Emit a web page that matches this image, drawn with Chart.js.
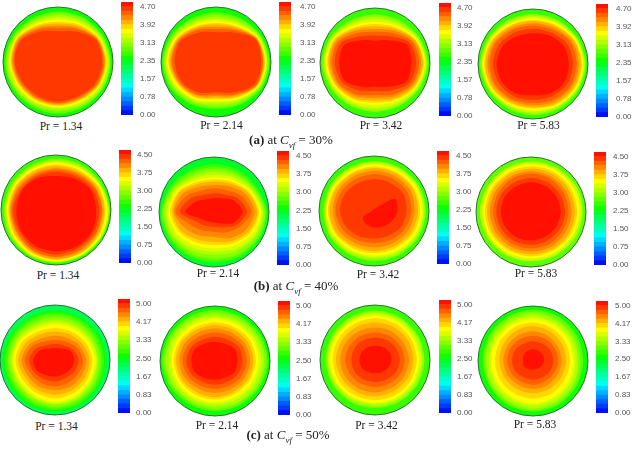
<!DOCTYPE html>
<html>
<head>
<meta charset="utf-8">
<title>Contours</title>
<script src="https://cdn.jsdelivr.net/npm/chart.js@4"></script>
<style>
  body { margin: 0; background: #fff; width: 640px; height: 449px; overflow: hidden; position: relative; }
  canvas { position: absolute; filter: blur(0.6px); }
  .txt { position: absolute; font-family: "Liberation Serif", serif; color: #222; white-space: nowrap; transform: translate(-50%, -50%); }
  .pr { font-size: 11.5px; }
  .cap { font-size: 13px; }
  .cap sub { font-size: 9px; font-style: italic; line-height: 0; }
</style>
</head>
<body>
<script>
// clockwise from the top of the disc, one radius every 30 degrees
const angles = ["0", "30", "60", "90", "120", "150", "180", "210", "240", "270", "300", "330"];

const bandColors = [
  "#0010f0", "#0038ff", "#0060ff", "#0088ff", "#00b0ff", "#00d8ff", "#00fff0", "#00ffc8", "#00ffa0",
  "#00ff78", "#00ff50", "#00ff28", "#10ff00", "#38ff00", "#60ff00", "#88ff00", "#b0ff00", "#d8ff00",
  "#ffff00", "#ffd800", "#ffb000", "#ff8800", "#ff6000", "#ff3800", "#ff1000",
];

const ticksA = [0.0, 0.78, 1.57, 2.35, 3.13, 3.92, 4.7];
const ticksB = [0.0, 0.75, 1.5, 2.25, 3.0, 3.75, 4.5];
const ticksC = [0.0, 0.83, 1.67, 2.5, 3.33, 4.17, 5.0];

const edgesA = [0, 0.2, 0.39, 0.59, 0.78, 0.98, 1.18, 1.37, 1.57, 1.76, 1.96, 2.15, 2.35, 2.55, 2.74, 2.94, 3.13, 3.33, 3.53, 3.72, 3.92, 4.11, 4.31, 4.5, 4.7, 4.9];
const edgesB = [0, 0.19, 0.38, 0.56, 0.75, 0.94, 1.13, 1.31, 1.5, 1.69, 1.88, 2.06, 2.25, 2.44, 2.63, 2.81, 3.0, 3.19, 3.38, 3.56, 3.75, 3.94, 4.13, 4.31, 4.5, 4.69];
const edgesC = [0, 0.21, 0.42, 0.63, 0.83, 1.04, 1.25, 1.46, 1.67, 1.88, 2.08, 2.29, 2.5, 2.71, 2.92, 3.13, 3.33, 3.54, 3.75, 3.96, 4.17, 4.38, 4.58, 4.79, 5.0, 5.21];

// contour radii, % of the disc radius, outermost first
const a1Bands = [14, 15, 16, 17, 18, 19, 20, 21, 22, 23];
const a1Radii = [
  [92, 93, 95, 96, 95, 94, 94, 94, 95, 96, 95, 92],
  [88, 90, 93, 95, 94, 91, 90, 91, 93, 95, 93, 89],
  [85, 87, 91, 93, 92, 89, 87, 88, 91, 93, 91, 86],
  [81, 84, 89, 91, 89, 86, 84, 85, 88, 90, 89, 83],
  [77, 81, 87, 89, 87, 83, 82, 83, 85, 88, 87, 80],
  [73, 78, 86, 88, 86, 81, 80, 81, 83, 86, 86, 77],
  [70, 75, 84, 86, 84, 79, 78, 79, 81, 85, 85, 75],
  [66, 72, 83, 85, 83, 77, 76, 77, 79, 83, 83, 72],
  [62, 69, 82, 83, 81, 75, 75, 75, 77, 81, 81, 69],
  [56, 64, 80, 80, 78, 72, 72, 72, 74, 79, 78, 64],
];
const a2Bands = [14, 15, 16, 17, 18, 19, 20, 21, 22, 23];
const a2Radii = [
  [90, 91, 95, 97, 95, 89, 85, 89, 95, 97, 95, 91],
  [86, 88, 93, 95, 93, 86, 82, 86, 92, 95, 93, 88],
  [82, 84, 92, 94, 92, 83, 78, 83, 90, 94, 91, 84],
  [78, 81, 90, 92, 90, 80, 74, 80, 87, 91, 88, 81],
  [75, 78, 88, 91, 88, 78, 71, 78, 84, 89, 86, 78],
  [71, 75, 87, 89, 87, 75, 68, 75, 81, 87, 84, 75],
  [68, 73, 86, 88, 86, 73, 65, 73, 79, 85, 82, 73],
  [64, 70, 85, 86, 85, 70, 62, 70, 77, 82, 80, 70],
  [60, 67, 84, 85, 84, 68, 59, 68, 75, 80, 78, 67],
  [54, 62, 83, 82, 81, 64, 55, 64, 72, 75, 75, 62],
];
const a3Bands = [15, 16, 17, 18, 19, 20, 21, 22, 23, 24];
const a3Radii = [
  [88, 89, 93, 96, 93, 90, 89, 90, 93, 96, 94, 89],
  [84, 85, 91, 94, 91, 87, 85, 87, 90, 94, 92, 85],
  [80, 82, 89, 92, 89, 84, 81, 84, 88, 92, 90, 82],
  [75, 78, 87, 91, 86, 80, 76, 80, 85, 90, 88, 78],
  [71, 75, 85, 89, 85, 77, 72, 77, 83, 87, 86, 75],
  [67, 72, 84, 87, 83, 74, 68, 74, 81, 85, 84, 72],
  [62, 68, 81, 84, 80, 70, 63, 70, 78, 82, 81, 68],
  [57, 63, 78, 80, 77, 66, 58, 66, 75, 78, 77, 63],
  [50, 56, 73, 75, 72, 58, 51, 58, 69, 73, 72, 56],
  [41, 48, 67, 66, 66, 50, 43, 50, 64, 65, 65, 48],
];
const a4Bands = [15, 16, 17, 18, 19, 20, 21, 22, 23, 24];
const a4Radii = [
  [91, 92, 94, 96, 95, 94, 93, 93, 94, 96, 94, 92],
  [88, 89, 92, 94, 93, 91, 90, 90, 92, 94, 92, 89],
  [86, 87, 91, 93, 92, 89, 87, 88, 91, 93, 91, 87],
  [83, 85, 89, 91, 90, 87, 84, 85, 89, 91, 89, 84],
  [80, 82, 87, 89, 88, 85, 81, 83, 87, 89, 87, 82],
  [78, 80, 86, 87, 86, 83, 79, 81, 85, 87, 85, 80],
  [74, 76, 82, 83, 82, 79, 75, 77, 81, 83, 81, 76],
  [70, 72, 79, 79, 79, 75, 71, 74, 78, 79, 78, 72],
  [64, 66, 72, 73, 72, 68, 65, 68, 71, 73, 71, 66],
  [56, 60, 65, 65, 66, 62, 57, 62, 65, 66, 64, 58],
];
const b1Bands = [15, 16, 17, 18, 19, 20, 21, 22, 23, 24];
const b1Radii = [
  [93, 94, 95, 97, 97, 96, 96, 96, 96, 95, 94, 93],
  [90, 91, 93, 96, 96, 95, 95, 95, 94, 93, 92, 90],
  [88, 89, 92, 95, 95, 94, 94, 94, 93, 91, 90, 88],
  [86, 87, 90, 93, 93, 93, 93, 92, 91, 89, 88, 86],
  [83, 84, 88, 90, 91, 91, 91, 90, 88, 87, 86, 83],
  [80, 81, 86, 88, 89, 90, 90, 88, 86, 85, 84, 81],
  [76, 78, 83, 85, 86, 87, 87, 86, 83, 83, 81, 77],
  [73, 75, 81, 83, 84, 84, 85, 84, 81, 81, 78, 74],
  [69, 71, 77, 79, 80, 80, 81, 80, 77, 78, 74, 71],
  [62, 66, 73, 73, 76, 76, 75, 75, 74, 72, 71, 67],
];
const b2Bands = [13, 14, 15, 16, 17, 18, 19, 20, 21, 22, 23, 24];
const b2Radii = [
  [87, 88, 90, 96, 96, 94, 92, 93, 96, 96, 92, 88],
  [82, 84, 87, 95, 94, 91, 88, 90, 93, 95, 90, 84],
  [78, 80, 85, 93, 92, 88, 84, 86, 90, 93, 87, 80],
  [73, 76, 82, 90, 88, 82, 78, 81, 87, 90, 84, 75],
  [68, 72, 79, 88, 85, 77, 72, 76, 84, 87, 81, 71],
  [63, 67, 76, 85, 80, 71, 66, 70, 78, 83, 78, 66],
  [59, 64, 74, 82, 76, 66, 60, 64, 73, 80, 75, 63],
  [55, 60, 71, 79, 72, 62, 54, 58, 69, 76, 72, 59],
  [49, 54, 66, 74, 66, 55, 45, 50, 60, 73, 66, 53],
  [43, 46, 58, 68, 54, 43, 36, 39, 48, 70, 58, 45],
  [34, 37, 50, 60, 47, 32, 27, 29, 36, 62, 49, 36],
  [25, 29, 42, 52, 40, 24, 19, 20, 26, 52, 38, 27],
];
const b3Bands = [15, 16, 17, 18, 19, 20, 21, 22, 23, 24];
const b3Radii = [
  [91, 92, 94, 94, 94, 92, 91, 91, 93, 92, 92, 91],
  [89, 90, 92, 92, 91, 89, 87, 88, 90, 90, 90, 89],
  [87, 88, 90, 90, 89, 86, 84, 85, 88, 89, 88, 87],
  [84, 85, 88, 87, 86, 83, 81, 82, 85, 87, 86, 84],
  [81, 82, 84, 84, 82, 78, 77, 78, 82, 84, 83, 81],
  [78, 79, 81, 80, 78, 74, 73, 74, 79, 81, 80, 78],
  [73, 74, 76, 74, 72, 68, 66, 68, 73, 75, 75, 73],
  [67, 68, 70, 68, 65, 61, 58, 61, 66, 70, 69, 67],
  [58, 59, 62, 59, 57, 52, 50, 53, 58, 62, 61, 58],
  [3, 6, 44, 43, 37, 33, 30, 28, 23, 4, 3, 3],
];
const b4Bands = [16, 17, 18, 19, 20, 21, 22, 23, 24];
const b4Radii = [
  [92, 93, 95, 94, 93, 91, 90, 91, 92, 93, 92, 92],
  [89, 90, 91, 91, 89, 88, 87, 88, 89, 90, 89, 89],
  [87, 88, 88, 88, 86, 85, 84, 85, 87, 87, 87, 87],
  [83, 84, 84, 84, 83, 81, 81, 81, 83, 84, 84, 83],
  [79, 80, 80, 80, 79, 78, 77, 78, 79, 80, 80, 79],
  [74, 74, 74, 74, 73, 73, 72, 73, 74, 75, 75, 74],
  [70, 70, 69, 68, 67, 67, 66, 67, 68, 69, 69, 70],
  [62, 62, 62, 62, 61, 60, 60, 61, 62, 63, 63, 62],
  [54, 54, 54, 54, 53, 52, 52, 53, 54, 55, 55, 54],
];
const c1Bands = [12, 13, 14, 15, 16, 17, 18, 19, 20, 21, 22, 23, 24];
const c1Radii = [
  [90, 90, 92, 93, 93, 94, 94, 94, 94, 95, 93, 90],
  [87, 87, 88, 89, 90, 91, 91, 91, 91, 92, 90, 87],
  [83, 83, 84, 85, 86, 87, 88, 87, 87, 88, 86, 83],
  [78, 79, 80, 82, 83, 84, 85, 84, 84, 85, 83, 79],
  [73, 74, 76, 78, 79, 81, 81, 80, 80, 81, 79, 74],
  [69, 70, 73, 76, 76, 78, 79, 78, 77, 79, 76, 70],
  [65, 66, 69, 73, 73, 75, 76, 75, 74, 77, 73, 66],
  [58, 60, 64, 68, 68, 69, 70, 69, 69, 72, 68, 60],
  [52, 54, 58, 63, 63, 63, 63, 63, 63, 67, 62, 54],
  [44, 46, 52, 57, 56, 56, 55, 56, 57, 61, 55, 46],
  [36, 39, 46, 51, 49, 48, 48, 49, 50, 55, 49, 39],
  [29, 31, 38, 43, 41, 38, 39, 40, 44, 47, 41, 31],
  [22, 24, 33, 35, 33, 30, 30, 32, 38, 40, 33, 24],
];
const c2Bands = [14, 15, 16, 17, 18, 19, 20, 21, 22, 23, 24];
const c2Radii = [
  [93, 93, 95, 96, 94, 92, 91, 91, 94, 96, 95, 93],
  [88, 89, 91, 92, 90, 88, 87, 87, 90, 92, 91, 89],
  [84, 85, 88, 89, 87, 85, 83, 84, 87, 89, 88, 85],
  [80, 81, 83, 84, 82, 80, 79, 80, 82, 84, 83, 81],
  [76, 77, 79, 79, 77, 75, 75, 76, 78, 79, 79, 77],
  [70, 71, 74, 74, 72, 70, 70, 71, 73, 75, 74, 71],
  [65, 66, 69, 70, 68, 66, 66, 66, 69, 71, 70, 66],
  [59, 60, 63, 64, 62, 59, 58, 59, 63, 65, 64, 60],
  [52, 53, 57, 58, 56, 52, 51, 52, 56, 59, 57, 53],
  [44, 45, 50, 50, 48, 44, 43, 44, 49, 52, 50, 45],
  [35, 36, 42, 41, 41, 35, 34, 36, 42, 43, 43, 37],
];
const c3Bands = [15, 16, 17, 18, 19, 20, 21, 22, 23, 24];
const c3Radii = [
  [90, 90, 90, 90, 89, 88, 87, 88, 89, 90, 90, 90],
  [87, 87, 87, 87, 85, 84, 84, 85, 86, 87, 87, 87],
  [84, 84, 84, 84, 82, 81, 80, 81, 83, 85, 85, 84],
  [80, 80, 80, 80, 79, 78, 78, 79, 81, 83, 82, 81],
  [76, 76, 76, 76, 75, 74, 73, 74, 76, 77, 77, 76],
  [68, 69, 70, 70, 68, 66, 66, 67, 69, 71, 70, 69],
  [59, 60, 61, 62, 61, 59, 59, 60, 62, 63, 62, 60],
  [50, 51, 53, 54, 53, 50, 49, 50, 52, 54, 53, 51],
  [41, 42, 44, 45, 44, 41, 40, 41, 43, 43, 43, 42],
  [26, 27, 30, 30, 28, 25, 24, 25, 28, 28, 28, 27],
];
const c4Bands = [14, 15, 16, 17, 18, 19, 20, 21, 22, 23, 24];
const c4Radii = [
  [93, 93, 92, 91, 91, 92, 92, 92, 91, 91, 92, 93],
  [89, 88, 87, 86, 87, 88, 89, 88, 88, 88, 88, 89],
  [85, 84, 83, 82, 84, 85, 86, 85, 85, 85, 85, 85],
  [80, 79, 78, 77, 79, 80, 81, 80, 80, 80, 80, 80],
  [76, 75, 74, 73, 74, 76, 77, 76, 76, 76, 76, 76],
  [70, 69, 68, 67, 67, 68, 68, 68, 69, 69, 70, 70],
  [63, 62, 61, 60, 59, 59, 59, 59, 60, 61, 62, 63],
  [54, 53, 52, 52, 51, 51, 51, 51, 53, 54, 54, 54],
  [46, 46, 46, 46, 44, 43, 43, 43, 45, 47, 47, 46],
  [36, 36, 37, 37, 36, 34, 34, 34, 37, 38, 38, 36],
  [21, 21, 21, 20, 18, 16, 16, 17, 19, 18, 20, 21],
];

const prLabels = ["Pr = 1.34", "Pr = 2.14", "Pr = 3.42", "Pr = 5.83"];

// cx, cy: disc centre; bx, bt, bb: colour bar left, top, bottom; lx: tick label left; px, py: Pr label centre
const panels = [
  { bands: a1Bands, radii: a1Radii, rim: 12, ticks: ticksA, edges: edgesA, pr: 0, cx: 58, cy: 62, bx: 121, bt: 2, bb: 115, lx: 140, px: 61, py: 126 },
  { bands: a2Bands, radii: a2Radii, rim: 12, ticks: ticksA, edges: edgesA, pr: 1, cx: 216, cy: 62, bx: 279, bt: 2, bb: 115, lx: 300, px: 221.5, py: 124.5 },
  { bands: a3Bands, radii: a3Radii, rim: 13, ticks: ticksA, edges: edgesA, pr: 2, cx: 375, cy: 63, bx: 439, bt: 3, bb: 116, lx: 457, px: 381, py: 125 },
  { bands: a4Bands, radii: a4Radii, rim: 13, ticks: ticksA, edges: edgesA, pr: 3, cx: 533, cy: 64, bx: 596, bt: 4, bb: 117, lx: 616, px: 538.5, py: 124.5 },
  { bands: b1Bands, radii: b1Radii, rim: 13, ticks: ticksB, edges: edgesB, pr: 0, cx: 56, cy: 210, bx: 119, bt: 150, bb: 263, lx: 137, px: 58, py: 274.5 },
  { bands: b2Bands, radii: b2Radii, rim: 11, ticks: ticksB, edges: edgesB, pr: 1, cx: 214, cy: 212, bx: 277, bt: 151, bb: 265, lx: 296, px: 218, py: 273 },
  { bands: b3Bands, radii: b3Radii, rim: 13, ticks: ticksB, edges: edgesB, pr: 2, cx: 374, cy: 211, bx: 437, bt: 151, bb: 264, lx: 456, px: 378, py: 274 },
  { bands: b4Bands, radii: b4Radii, rim: 14, ticks: ticksB, edges: edgesB, pr: 3, cx: 531, cy: 212, bx: 594, bt: 152, bb: 265, lx: 613, px: 536, py: 273 },
  { bands: c1Bands, radii: c1Radii, rim: 10, ticks: ticksC, edges: edgesC, pr: 0, cx: 55, cy: 360, bx: 118, bt: 299, bb: 413, lx: 136, px: 56.5, py: 426 },
  { bands: c2Bands, radii: c2Radii, rim: 12, ticks: ticksC, edges: edgesC, pr: 1, cx: 215, cy: 361, bx: 278, bt: 301, bb: 415, lx: 296, px: 217, py: 424.5 },
  { bands: c3Bands, radii: c3Radii, rim: 13, ticks: ticksC, edges: edgesC, pr: 2, cx: 375, cy: 360, bx: 439, bt: 300, bb: 413, lx: 457, px: 376.5, py: 424.5 },
  { bands: c4Bands, radii: c4Radii, rim: 12, ticks: ticksC, edges: edgesC, pr: 3, cx: 533, cy: 361, bx: 596, bt: 301, bb: 413, lx: 615, px: 535, py: 424 },
];

const captions = [
  { tag: "(a)", pct: "30%", x: 291, y: 140 },
  { tag: "(b)", pct: "40%", x: 296, y: 286 },
  { tag: "(c)", pct: "50%", x: 288, y: 435 },
];

function addCanvas(left, top, width, height) {
  const canvas = document.createElement("canvas");
  canvas.width = width;
  canvas.height = height;
  canvas.style.left = left + "px";
  canvas.style.top = top + "px";
  document.body.appendChild(canvas);
  return canvas.getContext("2d");
}

function addText(cls, html, x, y) {
  const el = document.createElement("div");
  el.className = "txt " + cls;
  el.innerHTML = html;
  el.style.left = x + "px";
  el.style.top = y + "px";
  document.body.appendChild(el);
}

function radarOptions(scale) {
  return {
    responsive: false,
    animation: false,
    layout: { padding: 1 },
    plugins: { legend: { display: false }, tooltip: { enabled: false } },
    scales: {
      r: {
        min: 0,
        max: 100,
        angleLines: { display: false },
        pointLabels: { display: false },
        ticks: { display: false, stepSize: 100 },
        ...scale,
      },
    },
  };
}

function renderDisc(p) {
  // round base with the rim colour and outline. The filler plugin does not
  // fill radar lines on a circular grid, so the contours get a chart of their own.
  new Chart(addCanvas(p.cx - 56, p.cy - 56, 112, 112), {
    type: "radar",
    data: { labels: angles, datasets: [] },
    options: radarOptions({
      backgroundColor: bandColors[p.rim],
      grid: { circular: true, color: "#2f6e38", lineWidth: 1 },
    }),
  });

  // inner contours go first, the first dataset is painted last
  const datasets = p.radii
    .map((radii, i) => ({
      data: radii,
      backgroundColor: bandColors[p.bands[i]],
      fill: true,
      borderWidth: 0,
      pointRadius: 0,
      tension: 0.3,
    }))
    .reverse();

  new Chart(addCanvas(p.cx - 56, p.cy - 56, 112, 112), {
    type: "radar",
    data: { labels: angles, datasets },
    options: radarOptions({ grid: { display: false } }),
  });
}

function renderBar(p) {
  const barWidth = 12;
  const gap = p.lx - p.bx - barWidth;
  const datasets = bandColors.map((color, i) => ({
    data: [[p.edges[i], p.edges[i + 1]]],
    backgroundColor: color,
    borderWidth: 0,
    barPercentage: 1,
    categoryPercentage: 1,
    grouped: false,
  }));

  new Chart(addCanvas(p.bx, p.bt - 8, barWidth + gap + 24, p.bb - p.bt + 16), {
    type: "bar",
    data: { labels: [""], datasets },
    options: {
      responsive: false,
      animation: false,
      layout: { padding: { top: 8, bottom: 8, left: 0, right: 0 } },
      plugins: { legend: { display: false }, tooltip: { enabled: false } },
      scales: {
        x: { display: false },
        y: {
          position: "right",
          min: 0,
          max: p.edges[p.edges.length - 1],
          grid: { display: false, drawTicks: false },
          border: { display: false },
          afterBuildTicks: (scale) => {
            scale.ticks = p.ticks.map((value) => ({ value }));
          },
          afterFit: (scale) => {
            scale.width = gap + 24;
            scale.paddingTop = 0;
            scale.paddingBottom = 0;
          },
          ticks: {
            autoSkip: false,
            maxRotation: 0,
            padding: gap,
            color: "#555",
            font: { family: "'Liberation Sans', sans-serif", size: 8 },
            callback: (value) => Number(value).toFixed(2),
          },
        },
      },
    },
  });
}

panels.forEach((p) => {
  renderDisc(p);
  renderBar(p);
  addText("pr", prLabels[p.pr], p.px, p.py);
});

captions.forEach((c) => {
  addText("cap", `<b>${c.tag}</b> at <i>C</i><sub>vf</sub> = ${c.pct}`, c.x, c.y);
});
</script>
</body>
</html>
